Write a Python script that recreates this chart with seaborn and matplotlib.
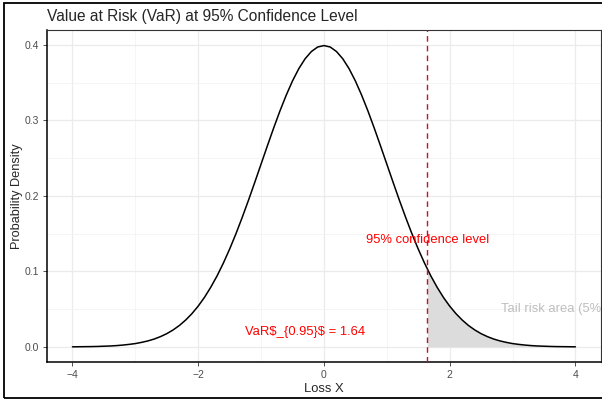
import pandas as pd
import seaborn as sns
import matplotlib.pyplot as plt
from matplotlib.patches import Rectangle
from matplotlib.ticker import MultipleLocator, FormatStrFormatter

# density values (normal loss distribution)
loss_x = [-4.0, -3.9, -3.8, -3.7, -3.6, -3.5, -3.4, -3.3, -3.2, -3.1,
          -3.0, -2.9, -2.8, -2.7, -2.6, -2.5, -2.4, -2.3, -2.2, -2.1,
          -2.0, -1.9, -1.8, -1.7, -1.6, -1.5, -1.4, -1.3, -1.2, -1.1,
          -1.0, -0.9, -0.8, -0.7, -0.6, -0.5, -0.4, -0.3, -0.2, -0.1,
          0.0, 0.1, 0.2, 0.3, 0.4, 0.5, 0.6, 0.7, 0.8, 0.9,
          1.0, 1.1, 1.2, 1.3, 1.4, 1.5, 1.6, 1.7, 1.8, 1.9,
          2.0, 2.1, 2.2, 2.3, 2.4, 2.5, 2.6, 2.7, 2.8, 2.9,
          3.0, 3.1, 3.2, 3.3, 3.4, 3.5, 3.6, 3.7, 3.8, 3.9, 4.0]
density = [0.0001, 0.0002, 0.0003, 0.0004, 0.0006, 0.0009, 0.0012, 0.0017, 0.0024, 0.0033,
           0.0044, 0.0060, 0.0079, 0.0104, 0.0136, 0.0175, 0.0224, 0.0283, 0.0355, 0.0440,
           0.0540, 0.0656, 0.0790, 0.0940, 0.1109, 0.1295, 0.1497, 0.1714, 0.1942, 0.2179,
           0.2420, 0.2661, 0.2897, 0.3123, 0.3332, 0.3521, 0.3683, 0.3814, 0.3910, 0.3970,
           0.3989, 0.3970, 0.3910, 0.3814, 0.3683, 0.3521, 0.3332, 0.3123, 0.2897, 0.2661,
           0.2420, 0.2179, 0.1942, 0.1714, 0.1497, 0.1295, 0.1109, 0.0940, 0.0790, 0.0656,
           0.0540, 0.0440, 0.0355, 0.0283, 0.0224, 0.0175, 0.0136, 0.0104, 0.0079, 0.0060,
           0.0044, 0.0033, 0.0024, 0.0017, 0.0012, 0.0009, 0.0006, 0.0004, 0.0003, 0.0002, 0.0001]

var_95 = 1.645
tail_x = [1.645, 1.7, 1.8, 1.9, 2.0, 2.1, 2.2, 2.3, 2.4, 2.5, 2.6, 2.7, 2.8, 2.9,
          3.0, 3.1, 3.2, 3.3, 3.4, 3.5, 3.6, 3.7, 3.8, 3.9, 4.0]
tail_y = [0.1031, 0.0940, 0.0790, 0.0656, 0.0540, 0.0440, 0.0355, 0.0283, 0.0224, 0.0175,
          0.0136, 0.0104, 0.0079, 0.0060, 0.0044, 0.0033, 0.0024, 0.0017, 0.0012, 0.0009,
          0.0006, 0.0004, 0.0003, 0.0002, 0.0001]

df = pd.DataFrame({"x": loss_x, "y": density})

sns.set_style("white")
plt.rcParams['font.family'] = ['Liberation Sans', 'DejaVu Sans']

fig = plt.figure(figsize=(6.02, 4), dpi=100)
# plot background border (right edge falls outside the image)
fig.patches.append(Rectangle((0.0066, 0.0038), 1.1, 0.9875, transform=fig.transFigure,
                             fill=False, edgecolor='black', linewidth=1.3, zorder=10))

ax = fig.add_axes([0.0786, 0.095, 0.919, 0.829])

ax.fill_between(tail_x, tail_y, 0, color='#DCDCDC', linewidth=0, zorder=1)
sns.lineplot(data=df, x="x", y="y", color='black', linewidth=1.1, ax=ax, zorder=3)
ax.axvline(var_95, color='#C8102E', linestyle=(0, (4, 3)), linewidth=1.0, zorder=4)

ax.text(var_95, 0.142, "95% confidence level", color='red', fontsize=9.4,
        ha='center', va='center')
ax.text(-0.3, 0.02, "VaR$_{0.95}$ = 1.64", color='red', fontsize=9.4,
        ha='center', va='center', parse_math=False)
ax.text(3.65, 0.05, "Tail risk area (5%)", color='#BEBEBE', fontsize=9.4,
        ha='center', va='center', clip_on=True)

ax.set_xlim(-4.4, 4.4)
ax.set_ylim(-0.02, 0.419)
ax.xaxis.set_major_locator(MultipleLocator(2))
ax.xaxis.set_minor_locator(MultipleLocator(1))
ax.yaxis.set_major_locator(MultipleLocator(0.1))
ax.yaxis.set_minor_locator(MultipleLocator(0.05))
ax.yaxis.set_major_formatter(FormatStrFormatter('%.1f'))

ax.grid(which='major', color='#EBEBEB', linewidth=0.9)
ax.grid(which='minor', color='#F2F2F2', linewidth=0.5)
ax.set_axisbelow(True)

for s in ['top', 'right']:
    ax.spines[s].set_color('#333333')
    ax.spines[s].set_linewidth(0.8)
for s in ['left', 'bottom']:
    ax.spines[s].set_color('black')
    ax.spines[s].set_linewidth(1.1)

ax.tick_params(which='major', length=3, width=0.6, color='#333333',
               labelsize=7.5, labelcolor='#4D4D4D', bottom=True, left=True, pad=3)
ax.tick_params(which='minor', length=0)

ax.set_xlabel("Loss X", fontsize=9.4, labelpad=2)
ax.set_ylabel("Probability Density", fontsize=9.2, labelpad=1)
ax.set_title("Value at Risk (VaR) at 95% Confidence Level", loc='left',
             fontsize=11.2, pad=7)

fig.savefig("out.png", dpi=100)
